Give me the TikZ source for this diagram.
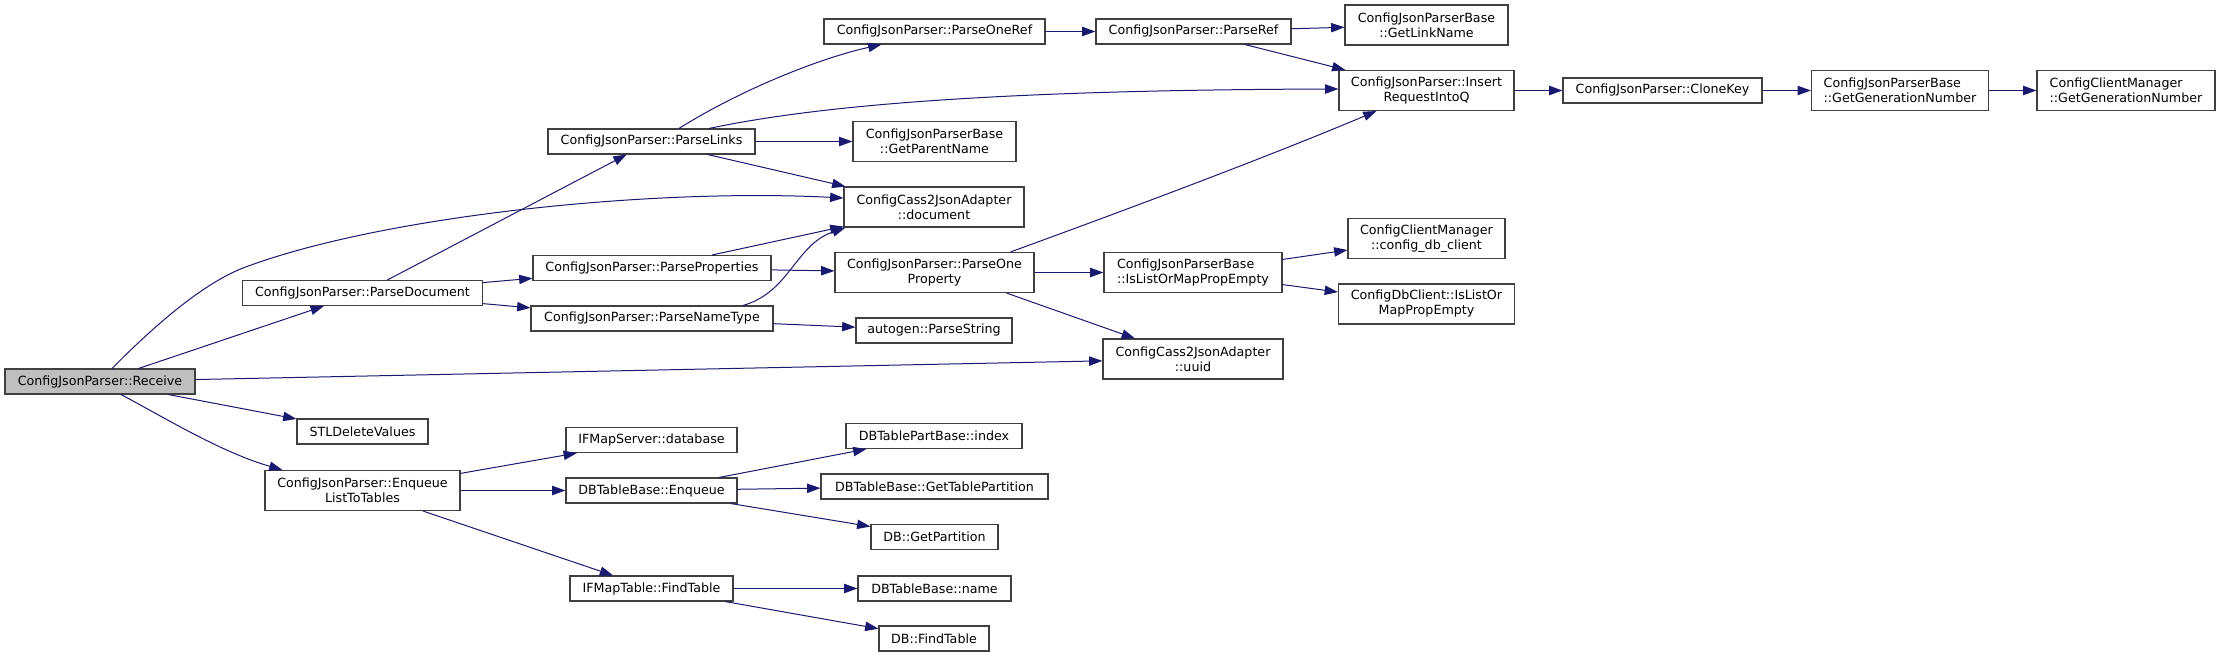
\documentclass[tikz,border=0pt]{standalone}
\usepackage{fontspec}
\setmainfont{DejaVu Sans}
\usetikzlibrary{arrows.meta,calc}
\definecolor{edgec}{HTML}{191970}
\definecolor{boxc}{HTML}{404040}
\definecolor{rootc}{HTML}{BFBFBF}
\begin{document}
\begin{tikzpicture}[x=0.75pt,y=-0.75pt,
  fn/.style 2 args={draw=boxc, fill=white, line width=0.8pt, inner sep=0pt,
    minimum width=#1*0.75pt, minimum height=#2*0.75pt, align=center,
    font=\fontsize{9.5}{11.25}\selectfont},
  e/.style={draw=edgec, line width=0.75pt, -{Triangle[length=10pt,width=7pt]}}]
\useasboundingbox (0,0) rectangle (2221,657);
% column 0
\node[fn={190}{25}, fill=rootc] (rcv) at (100,381.5) {ConfigJsonParser::Receive};
% column 1
\node[fn={240}{25}] (pdoc) at (362.5,293) {ConfigJsonParser::ParseDocument};
\node[fn={131}{25}] (stl) at (362.5,431.5) {STLDeleteValues};
\node[fn={195}{40}] (enq) at (362.5,490.5) {ConfigJsonParser::Enqueue\\ListToTables};
% column 2
\node[fn={207}{25}] (plinks) at (651.5,141.5) {ConfigJsonParser::ParseLinks};
\node[fn={238}{25}] (pprop) at (652,268) {ConfigJsonParser::ParseProperties};
\node[fn={242}{25}] (pnt) at (652,318.5) {ConfigJsonParser::ParseNameType};
\node[fn={171}{25}] (db) at (651.5,440) {IFMapServer::database};
\node[fn={171}{25}] (dbenq) at (651.5,490.5) {DBTableBase::Enqueue};
\node[fn={163}{25}] (ft) at (651.5,588.5) {IFMapTable::FindTable};
% column 3
\node[fn={221}{25}] (oneref) at (934.5,31.5) {ConfigJsonParser::ParseOneRef};
\node[fn={163}{40}] (parent) at (934.5,141.5) {ConfigJsonParserBase\\::GetParentName};
\node[fn={180}{40}] (doc) at (934,207) {ConfigCass2JsonAdapter\\::document};
\node[fn={199}{40}] (poneprop) at (934.5,272.5) {ConfigJsonParser::ParseOne\\Property};
\node[fn={156}{25}] (pstr) at (934,330.5) {autogen::ParseString};
\node[fn={176}{25}] (index) at (934,436) {DBTablePartBase::index};
\node[fn={227}{25}] (gtp) at (934.5,486.5) {DBTableBase::GetTablePartition};
\node[fn={127}{25}] (gp) at (934.5,537) {DB::GetPartition};
\node[fn={153}{25}] (name) at (934.5,588.5) {DBTableBase::name};
\node[fn={110}{25}] (dbft) at (934,638.5) {DB::FindTable};
% column 4
\node[fn={195}{25}] (pref) at (1193.5,31.5) {ConfigJsonParser::ParseRef};
\node[fn={178}{40}, align=left] (islist) at (1193,272.5) {ConfigJsonParserBase\\::IsListOrMapPropEmpty};
\node[fn={180}{40}] (uuid) at (1193,359) {ConfigCass2JsonAdapter\\::uuid};
% column 5
\node[fn={163}{40}] (gln) at (1426.5,25) {ConfigJsonParserBase\\::GetLinkName};
\node[fn={175}{40}] (ins) at (1426.5,90.5) {ConfigJsonParser::Insert\\RequestIntoQ};
\node[fn={157}{40}] (cdc) at (1426.5,238.5) {ConfigClientManager\\::config\_db\_client};
\node[fn={176}{40}] (dbc) at (1426.5,304) {ConfigDbClient::IsListOr\\MapPropEmpty};
% columns 6-8
\node[fn={199}{25}] (clone) at (1662.5,90.5) {ConfigJsonParser::CloneKey};
\node[fn={177}{40}, align=left] (ggn) at (1900,90.5) {ConfigJsonParserBase\\::GetGenerationNumber};
\node[fn={178}{40}, align=left] (cggn) at (2126,90.5) {ConfigClientManager\\::GetGenerationNumber};
% edges from Receive
\draw[e] ($(rcv.north)+(12,0)$) .. controls (160,320) and (205,283) .. (243,268)
  .. controls (380,216) and (650,188) .. ($(doc.west)+(0,-9)$);
\draw[e] (rcv) -- (pdoc);
\draw[e] (rcv) -- (uuid);
\draw[e] (rcv) -- (stl);
\draw[e] ($(rcv.south)+(21,0)$) .. controls (160,415) and (220,452) .. ($(enq.north)+(-80,0)$);
% ParseDocument
\draw[e] (pdoc) -- (plinks);
\draw[e] (pdoc) -- (pprop);
\draw[e] (pdoc) -- (pnt);
% ParseLinks
\draw[e] ($(plinks.north)+(27.5,0)$) .. controls (740,90) and (820,58) .. ($(oneref.south)+(-53,0)$);
\draw[e] ($(plinks.north)+(57.5,0)$) .. controls (820,105) and (1000,90) .. ($(ins.west)+(0,-1.5)$);
\draw[e] (plinks) -- (parent);
\draw[e] (plinks) -- (doc);
% ParseProperties / ParseNameType
\draw[e] (pprop) -- (doc);
\draw[e] (pprop) -- (poneprop);
\draw[e] ($(pnt.north)+(91,0)$) .. controls (790,292) and (795,245) .. ($(doc.south west)+(2,0)$);
\draw[e] (pnt) -- (pstr);
% ParseOneProperty
\draw[e] ($(poneprop.north)+(76,0)$) .. controls (1120,212) and (1260,160) .. ($(ins.south)+(-50,0)$);
\draw[e] (poneprop) -- (islist);
\draw[e] ($(poneprop.south)+(72,0)$) -- (uuid);
% ParseOneRef / ParseRef
\draw[e] (oneref) -- (pref);
\draw[e] (pref) -- (gln);
\draw[e] (pref) -- (ins);
\draw[e] (ins) -- (clone);
\draw[e] (clone) -- (ggn);
\draw[e] (ggn) -- (cggn);
% IsListOrMapPropEmpty
\draw[e] (islist) -- (cdc);
\draw[e] (islist) -- (dbc);
% EnqueueListToTables
\draw[e] (enq) -- (db);
\draw[e] (enq) -- (dbenq);
\draw[e] (enq) -- (ft);
\draw[e] (dbenq) -- (index);
\draw[e] (dbenq) -- (gtp);
\draw[e] (dbenq) -- (gp);
\draw[e] (ft) -- (name);
\draw[e] (ft) -- (dbft);
\end{tikzpicture}
\end{document}
